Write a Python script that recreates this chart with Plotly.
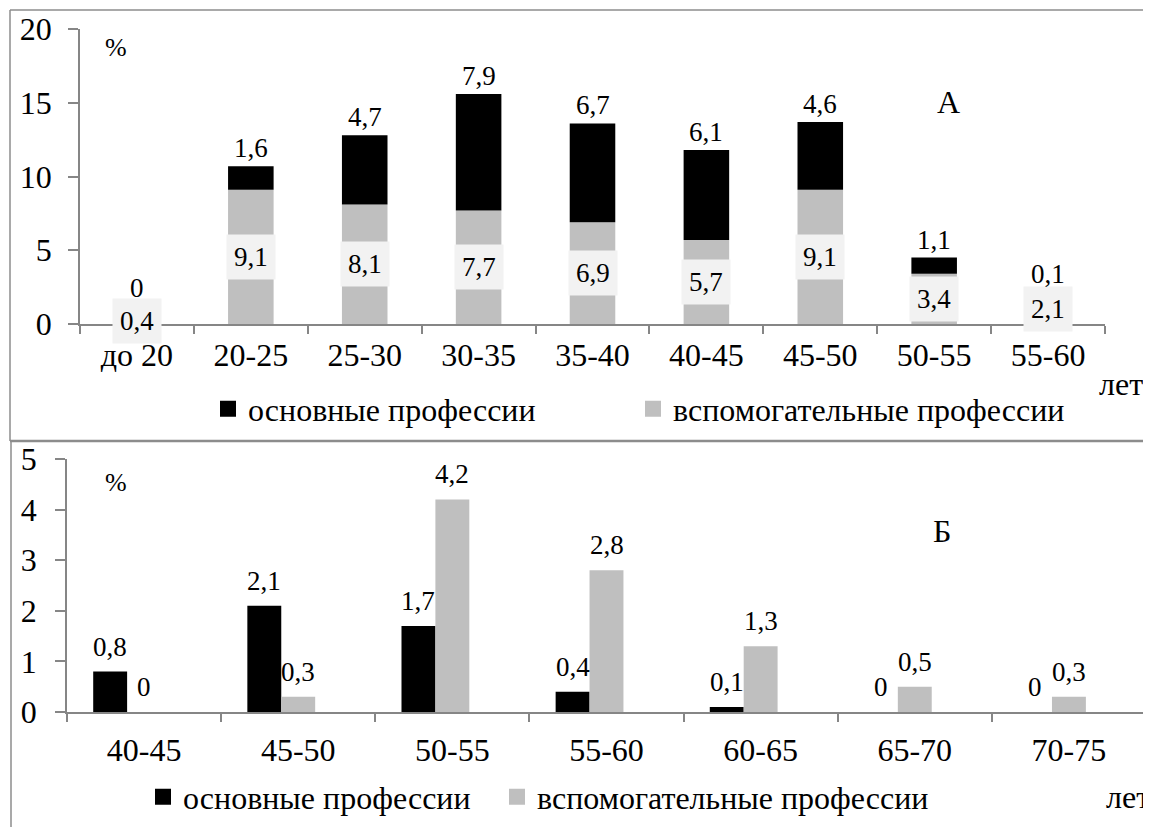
import plotly.graph_objects as go

# ---------------- data ----------------
cats_a = ["до 20", "20-25", "25-30", "30-35", "35-40", "40-45", "45-50", "50-55", "55-60"]
main_a = [0, 1.6, 4.7, 7.9, 6.7, 6.1, 4.6, 1.1, 0.1]
aux_a = [0.4, 9.1, 8.1, 7.7, 6.9, 5.7, 9.1, 3.4, 2.1]

cats_b = ["40-45", "45-50", "50-55", "55-60", "60-65", "65-70", "70-75"]
main_b = [0.8, 2.1, 1.7, 0.4, 0.1, 0, 0]
aux_b = [0, 0.3, 4.2, 2.8, 1.3, 0.5, 0.3]

yticks_a = [0, 5, 10, 15, 20]
yticks_b = [0, 1, 2, 3, 4, 5]

name_main = "основные профессии"
name_aux = "вспомогательные профессии"
unit_y = "%"
unit_x = "лет"
panel_a = "А"
panel_b = "Б"

# ---------------- style ----------------
W, H = 1151, 827
OFF = 8                      # default page (body) margin
FW, FH = W - OFF, H - OFF    # figure size so that it fills the window
FONT = "Liberation Serif, Times New Roman, DejaVu Serif, serif"
BLACK = "#000000"
GREY = "#bfbfbf"
AXIS = "#868686"
LBLBG = "#f2f2f2"


def px(x):
    return (x - OFF) / FW


def py(y):
    return 1 - (y - OFF) / FH


def fmt(v):
    return f"{v:g}".replace(".", ",")


fig = go.Figure()

# ---- Chart A (stacked via base) ----
BWA = 0.4
fig.add_trace(go.Bar(x=cats_a, y=aux_a, marker_color=GREY, name=name_aux, width=BWA,
                     marker_line_width=0, xaxis="x", yaxis="y", showlegend=False))
fig.add_trace(go.Bar(x=cats_a, y=main_a, base=aux_a, marker_color=BLACK, name=name_main,
                     width=BWA, marker_line_width=0, xaxis="x", yaxis="y", showlegend=False))

# ---- Chart B (grouped, third empty slot) ----
BW = 0.22
fig.add_trace(go.Bar(x=cats_b, y=main_b, marker_color=BLACK, name=name_main,
                     xaxis="x2", yaxis="y2", width=BW, offset=-1.5 * BW,
                     marker_line_width=0, showlegend=False))
fig.add_trace(go.Bar(x=cats_b, y=aux_b, marker_color=GREY, name=name_aux,
                     xaxis="x2", yaxis="y2", width=BW, offset=-0.5 * BW,
                     marker_line_width=0, showlegend=False))

# legend proxies (one legend per item for exact placement)
for nm, col, lg in [(name_main, BLACK, "legend"), (name_aux, GREY, "legend2"),
                    (name_main, BLACK, "legend3"), (name_aux, GREY, "legend4")]:
    fig.add_trace(go.Scatter(x=[None], y=[None], mode="markers", name=nm,
                             marker=dict(symbol="square", size=16, color=col),
                             xaxis="x", yaxis="y", legend=lg, showlegend=True))

ann = []
LBL = dict(family=FONT, size=27, color=BLACK)
# Chart A labels
for c, m, a in zip(cats_a, main_a, aux_a):
    ann.append(dict(x=c, y=a / 2, xref="x", yref="y", text=fmt(a), showarrow=False,
                    bgcolor=LBLBG, borderpad=7, font=LBL))
    ann.append(dict(x=c, y=max(a + m, a / 2 + 1.0), xref="x", yref="y", text=fmt(m),
                    showarrow=False, yshift=18, yanchor="middle", font=LBL))
# Chart B labels
slot_px = BW * (1079 / 7)
for c, m, a in zip(cats_b, main_b, aux_b):
    ann.append(dict(x=c, y=m, xref="x2", yref="y2", text=fmt(m), showarrow=False,
                    yshift=25, xshift=-slot_px, yanchor="middle", font=LBL))
    ann.append(dict(x=c, y=a, xref="x2", yref="y2", text=fmt(a), showarrow=False,
                    yshift=25, xshift=0, yanchor="middle", font=LBL))

# unit & panel texts
txt = [
    (unit_y, 116, 47, 26, "center"),
    (panel_a, 948, 102, 32, "center"),
    (unit_x, 1097, 384, 32, "left"),
    (unit_y, 116, 482, 26, "center"),
    (panel_b, 942, 531, 32, "center"),
    (unit_x, 1104, 797, 32, "left"),
]
for t, x, y, s, xa in txt:
    ann.append(dict(x=px(x), y=py(y), xref="paper", yref="paper", text=t, showarrow=False,
                    xanchor=xa, yanchor="middle", font=dict(family=FONT, size=s, color=BLACK)))

FR = "#8c8c8c"
shapes = [
    dict(type="line", xref="paper", yref="paper", x0=px(10), x1=1, y0=py(10), y1=py(10),
         line=dict(color=FR, width=1.5)),
    dict(type="line", xref="paper", yref="paper", x0=px(10), x1=px(10), y0=py(10), y1=py(441),
         line=dict(color=FR, width=1.5)),
    dict(type="line", xref="paper", yref="paper", x0=px(10), x1=1, y0=py(441), y1=py(441),
         line=dict(color=FR, width=2.5)),
    dict(type="line", xref="paper", yref="paper", x0=px(11), x1=px(11), y0=py(441), y1=0,
         line=dict(color=FR, width=1.5)),
]

tickfont = dict(family=FONT, size=32, color=BLACK)
common_x = dict(type="category", showline=True, linecolor=AXIS, linewidth=1.5,
                ticks="outside", tickson="boundaries", ticklen=8, tickcolor=AXIS, tickwidth=1.5,
                showgrid=False, zeroline=False, tickfont=tickfont, fixedrange=True,
                automargin=False)
common_y = dict(showline=True, linecolor=AXIS, linewidth=1.5, ticks="outside", ticklen=10,
                tickcolor=AXIS, tickwidth=1.5, showgrid=False, zeroline=False,
                tickfont=tickfont, fixedrange=True, automargin=False)

LEGF = dict(family=FONT, size=32, color=BLACK)


def leg(xc, yc):
    return dict(orientation="h", x=px(xc - 21), y=py(yc), xanchor="left", yanchor="middle",
                font=LEGF, bgcolor="rgba(0,0,0,0)", borderwidth=0)


fig.update_layout(
    width=FW, height=FH,
    margin=dict(l=0, r=0, t=0, b=0, autoexpand=False),
    paper_bgcolor="white", plot_bgcolor="white",
    barmode="overlay",
    font=dict(family=FONT, color=BLACK),
    xaxis=dict(domain=[px(80), px(1105)], anchor="y", range=[-0.5, 8.5],
               ticklabelstandoff=2, **common_x),
    yaxis=dict(domain=[py(324), py(29)], anchor="x", range=[0, 20], tickvals=yticks_a,
               ticklabelstandoff=10, **common_y),
    xaxis2=dict(domain=[px(67), px(1146)], anchor="y2", range=[-0.5, 6.5],
                ticklabelstandoff=9, **common_x),
    yaxis2=dict(domain=[py(712), py(459)], anchor="x2", range=[0, 5], tickvals=yticks_b,
                ticklabelstandoff=12, **common_y),
    legend=leg(229, 409),
    legend2=leg(654, 409),
    legend3=leg(164, 797),
    legend4=leg(518, 797),
    annotations=ann,
    shapes=shapes,
)

fig.write_html("out.html")
